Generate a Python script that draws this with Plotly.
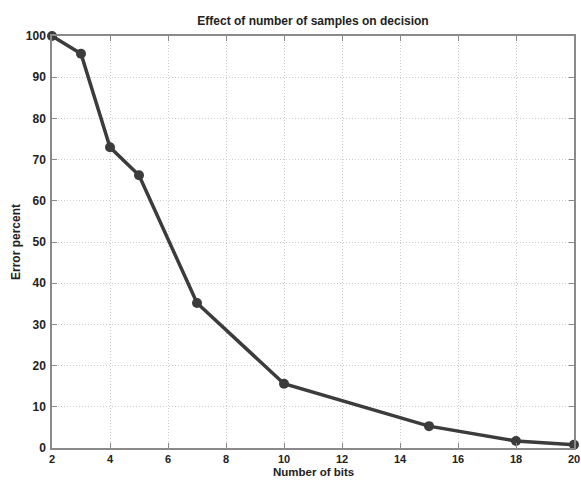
import plotly.graph_objects as go

bits = [2, 3, 4, 5, 7, 10, 15, 18, 20]
error_percent = [100, 95.7, 73, 66.2, 35.2, 15.6, 5.3, 1.7, 0.8]
x_ticks = [2, 4, 6, 8, 10, 12, 14, 16, 18, 20]
y_ticks = [0, 10, 20, 30, 40, 50, 60, 70, 80, 90, 100]

line_col = "#3c3c3c"
font_family = "Liberation Sans, Arial, sans-serif"

fig = go.Figure()
fig.add_trace(go.Scatter(
    x=bits, y=error_percent, mode="lines+markers",
    line=dict(color=line_col, width=3.5),
    marker=dict(color=line_col, size=10, symbol="circle"),
    cliponaxis=False, showlegend=False,
))

axis_common = dict(
    showline=True, linecolor="#8a8a8a", linewidth=1.5, mirror="ticks",
    ticks="inside", ticklen=5, tickcolor="#8a8a8a", tickwidth=1,
    showgrid=True, gridcolor="#cccccc", griddash="1px,2px", gridwidth=1,
    zeroline=False, automargin=False, ticklabeloverflow="allow",
)

fig.update_layout(
    width=581, height=480,
    margin=dict(l=52, r=7, t=36, b=32),
    paper_bgcolor="white", plot_bgcolor="white",
    title=dict(text="<b>Effect of number of samples on decision</b>",
               x=0.5, xref="paper", xanchor="center", yref="container",
               y=1 - 21 / 480, yanchor="middle",
               font=dict(family=font_family, size=12, color="#222222")),
    xaxis=dict(range=[2, 20], tickvals=x_ticks, ticktext=[str(v) for v in x_ticks],
               ticklabelstandoff=0,
               tickfont=dict(family=font_family, size=11, color="#222222", weight="bold"),
               **axis_common),
    yaxis=dict(range=[0, 100], tickvals=y_ticks, ticktext=[str(v) for v in y_ticks],
               title=dict(text="<b>Error percent</b>", standoff=3,
                          font=dict(family=font_family, size=12, color="#222222")),
               ticklabelstandoff=2,
               tickfont=dict(family=font_family, size=12, color="#222222", weight="bold"),
               **axis_common),
    annotations=[dict(text="<b>Number of bits</b>", xref="paper", yref="paper",
                      x=0.5, y=0, xanchor="center", yanchor="top", yshift=-17,
                      borderpad=0, showarrow=False,
                      font=dict(family=font_family, size=11.5, color="#222222"))],
)

fig.write_html("out.html", config={"displayModeBar": False},
               post_script="document.body.style.margin='0';")
